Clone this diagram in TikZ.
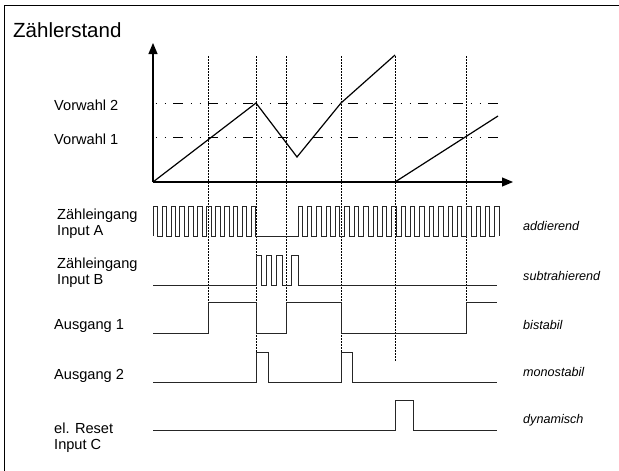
\documentclass[tikz,border=0pt]{standalone}
\usepackage{fontspec}
\setmainfont{Liberation Sans}
\usetikzlibrary{arrows.meta}

\begin{document}
\begin{tikzpicture}[x=1pt, y=-1pt,
  signal/.style ={line width=0.8pt, black!85},
  sigtext/.style ={anchor=base west, inner sep=0pt, align=left, font=\fontsize{14.6}{16}\selectfont},
  modetext/.style ={anchor=base west, inner sep=0pt, font=\fontsize{12.6}{14}\selectfont\itshape},
  cursor/.style ={line width=0.7pt, dash pattern=on 1.5pt off 1.5pt},
  preset/.style ={line width=0.9pt, dash pattern=on 10pt off 7.5pt on 1.5pt off 7.5pt on 1.5pt off 7pt, dash phase=15pt}]
 \useasboundingbox (0,0) rectangle (619,471);
 \draw[line width=1pt] (4,471) -- (4,5) -- (619,5);

 % counter axes
 \coordinate (O) at (153,182);
 \coordinate (ytip) at (153,43);
 \coordinate (xtip) at (513,182);
 \node[anchor=base west, inner sep=0pt, font=\fontsize{20.5}{23}\selectfont] (title) at (13,37) {Zählerstand};
 \draw[line width=1.1pt, -{Triangle[width=9pt,length=11pt]}] (O) -- (ytip);
 \draw[line width=1.1pt, -{Triangle[width=9pt,length=11pt]}] (O) -- (xtip);

 % presets
 \node[sigtext] (vw2) at (54,110.5) {Vorwahl 2};
 \node[sigtext] (vw1) at (54,144) {Vorwahl 1};
 \draw[preset] (153,103) -- (502,103);
 \draw[preset] (153,137) -- (502,137);

 % time markers
 \foreach \x/\y in {208/302, 256/352, 286/302, 341/352, 395/362, 466/302}
   \draw[cursor] (\x,56) -- (\x,\y);

 % counter value
 \draw[line width=1.2pt] (O) -- (256,103) -- (297,157) -- (341,103) -- (395,55);
 \draw[line width=1.2pt] (395,182) -- (498,116);

 % input A
 \node[sigtext] (inA) at (57,235.7) {Zähleingang\\Input A};
 \draw[signal] (153,236)
   \foreach \k in {0,...,11} { -- ({153+8.95*\k},236) -- ++(0,-30) -- ++(4.3,0) -- ++(0,30) }
   \foreach \k in {0,...,21} { -- ({298+9.37*\k},236) -- ++(0,-30) -- ++(4.4,0) -- ++(0,30) };
 \node[modetext] (add) at (523,230) {addierend};

 % input B
 \node[sigtext] (inB) at (57,284.3) {Zähleingang\\Input B};
 \draw[signal] (153,285)
   \foreach \a/\b in {256/261, 266/271, 276/282, 291/298} { -- (\a,285) -- (\a,255) -- (\b,255) -- (\b,285) }
   -- (497,285);
 \node[modetext] (sub) at (523,280) {subtrahierend};

 % output 1
 \node[sigtext] (out1) at (54,329.5) {Ausgang 1};
 \draw[signal] (153,333)
   \foreach \a/\b in {208/256, 286/341} { -- (\a,333) -- (\a,302) -- (\b,302) -- (\b,333) }
   -- (466,333) -- (466,302) -- (497,302);
 \node[modetext] (bi) at (523,329) {bistabil};

 % output 2
 \node[sigtext] (out2) at (54,379) {Ausgang 2};
 \draw[signal] (153,382)
   \foreach \a/\b in {256/268, 341/352} { -- (\a,382) -- (\a,352) -- (\b,352) -- (\b,382) }
   -- (497,382);
 \node[modetext] (mono) at (523,376) {monostabil};

 % reset
 \node[sigtext] (inC) at (54,449.3) {el. Reset\\Input C};
 \draw[signal] (153,430) -- (395,430) -- (395,400) -- (413,400) -- (413,430) -- (497,430);
 \node[modetext] (dyn) at (523,423) {dynamisch};
\end{tikzpicture}
\end{document}
